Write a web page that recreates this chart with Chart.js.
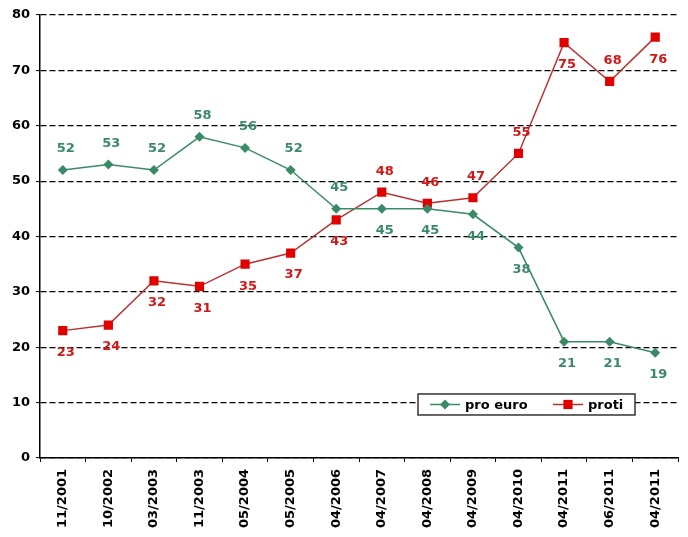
<!DOCTYPE html>
<html>
<head>
<meta charset="utf-8">
<script src="https://cdn.jsdelivr.net/npm/chart.js@4.4.0/dist/chart.umd.min.js"></script>
<style>
  html, body { margin: 0; padding: 0; background: #fff; }
  #wrap { width: 688px; height: 537px; }
</style>
</head>
<body>
<div id="wrap"><canvas id="chart" width="688" height="537"></canvas></div>
<script>
// data
var labels = ['11/2001', '10/2002', '03/2003', '11/2003', '05/2004', '05/2005', '04/2006',
              '04/2007', '04/2008', '04/2009', '04/2010', '04/2011', '06/2011', '04/2011'];
var proEuro = [52, 53, 52, 58, 56, 52, 45, 45, 45, 44, 38, 21, 21, 19];
var proti = [23, 24, 32, 31, 35, 37, 43, 48, 46, 47, 55, 75, 68, 76];
var yTicks = [0, 10, 20, 30, 40, 50, 60, 70, 80];

// where each value label sits relative to its point
var proEuroLabelPos = ['up', 'up', 'up', 'up', 'up', 'up', 'up', 'down', 'down', 'down', 'down', 'down', 'down', 'down'];
var protiLabelPos = ['down', 'down', 'down', 'down', 'down', 'down', 'down', 'up', 'up', 'up', 'up', 'down', 'up', 'down'];

var green = '#3a8a68';
var red = '#e00000';
var redLine = '#b83030';
var font = "'DejaVu Sans', Verdana, sans-serif";

// value labels next to the points
var valueLabels = {
    id: 'valueLabels',
    afterDatasetsDraw: function (chart) {
        var ctx = chart.ctx;
        ctx.save();
        ctx.font = 'bold 13px ' + font;
        ctx.textAlign = 'center';
        ctx.textBaseline = 'middle';
        chart.data.datasets.forEach(function (ds, i) {
            var meta = chart.getDatasetMeta(i);
            ctx.fillStyle = ds.labelColor;
            meta.data.forEach(function (pt, j) {
                var dy = ds.labelPos[j] === 'up' ? -21 : 22;
                ctx.fillText(ds.data[j], pt.x + 3, pt.y + dy);
            });
        });
        ctx.restore();
    }
};

// legend box drawn inside the plot, like the original
var boxLegend = {
    id: 'boxLegend',
    afterDraw: function (chart) {
        var ctx = chart.ctx;
        var area = chart.chartArea;
        var x0 = area.right - 260, y0 = area.bottom - 64, w = 217, h = 21;
        ctx.save();
        ctx.fillStyle = '#fff';
        ctx.fillRect(x0, y0, w, h);
        ctx.strokeStyle = '#333';
        ctx.lineWidth = 1.5;
        ctx.strokeRect(x0, y0, w, h);
        ctx.font = 'bold 13px ' + font;
        ctx.textBaseline = 'middle';
        var cy = y0 + h / 2;
        var starts = [x0 + 12, x0 + 135];
        chart.data.datasets.forEach(function (ds, i) {
            var sx = starts[i];
            ctx.strokeStyle = ds.borderColor;
            ctx.lineWidth = 1.5;
            ctx.beginPath();
            ctx.moveTo(sx, cy);
            ctx.lineTo(sx + 30, cy);
            ctx.stroke();
            ctx.fillStyle = ds.pointBackgroundColor;
            ctx.beginPath();
            if (ds.pointStyle === 'rect') {
                var s = ds.pointRadius * Math.SQRT1_2;
                ctx.rect(sx + 15 - s, cy - s, 2 * s, 2 * s);
            } else {
                var r = ds.pointRadius;
                ctx.moveTo(sx + 15, cy - r);
                ctx.lineTo(sx + 15 + r, cy);
                ctx.lineTo(sx + 15, cy + r);
                ctx.lineTo(sx + 15 - r, cy);
                ctx.closePath();
            }
            ctx.fill();
            ctx.fillStyle = '#000';
            ctx.textAlign = 'left';
            ctx.fillText(ds.label, sx + 35, cy + 1);
        });
        ctx.restore();
    }
};

var ctx = document.getElementById('chart').getContext('2d');
var chart = new Chart(ctx, {
    type: 'line',
    data: {
        labels: labels,
        datasets: [
            {
                label: 'pro euro',
                data: proEuro,
                borderColor: green,
                backgroundColor: green,
                pointBackgroundColor: green,
                pointBorderColor: green,
                pointBorderWidth: 0,
                pointStyle: 'rectRot',
                pointRadius: 5,
                borderWidth: 1.5,
                tension: 0,
                labelColor: green,
                labelPos: proEuroLabelPos
            },
            {
                label: 'proti',
                data: proti,
                borderColor: redLine,
                backgroundColor: red,
                pointBackgroundColor: red,
                pointBorderColor: red,
                pointBorderWidth: 0,
                pointStyle: 'rect',
                pointRadius: 6.5,
                borderWidth: 1.5,
                tension: 0,
                labelColor: '#d01818',
                labelPos: protiLabelPos
            }
        ]
    },
    options: {
        responsive: false,
        animation: false,
        layout: { padding: { top: 15, right: 10, left: 0, bottom: 2 } },
        plugins: {
            legend: { display: false },
            tooltip: { enabled: false }
        },
        scales: {
            x: {
                offset: true,
                grid: {
                    offset: true,
                    drawOnChartArea: false,
                    drawTicks: true,
                    tickLength: 4,
                    tickColor: '#000',
                    tickWidth: 1
                },
                border: { display: true, color: '#000', width: 1.5 },
                ticks: {
                    minRotation: 90,
                    maxRotation: 90,
                    autoSkip: false,
                    color: '#000',
                    padding: 7,
                    font: { family: font, size: 13, weight: 'bold' }
                }
            },
            y: {
                min: 0,
                max: 80,
                afterBuildTicks: function (axis) {
                    axis.ticks = yTicks.map(function (v) { return { value: v }; });
                },
                afterFit: function (axis) { axis.width = 40; },
                grid: {
                    color: '#000',
                    lineWidth: 1.2,
                    drawTicks: true,
                    tickLength: 4,
                    tickColor: '#000',
                    tickBorderDash: [],
                    tickWidth: 1
                },
                border: { display: true, color: '#000', width: 1.5, dash: [6, 3] },
                ticks: {
                    color: '#000',
                    padding: 6,
                    font: { family: font, size: 13, weight: 'bold' }
                }
            }
        }
    },
    plugins: [valueLabels, boxLegend]
});
</script>
</body>
</html>
